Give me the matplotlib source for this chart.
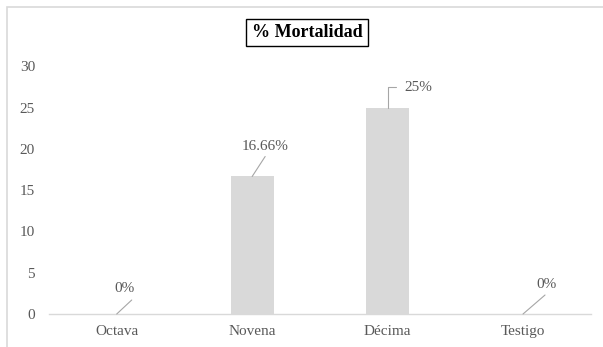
import matplotlib
matplotlib.use("Agg")
import matplotlib.pyplot as plt
import matplotlib.patches as patches

# Data
categories = ["Octava", "Novena", "Décima", "Testigo"]
mortality = [0, 16.66, 25, 0]
value_labels = ["0%", "16.66%", "25%", "0%"]
y_ticks = [0, 5, 10, 15, 20, 25, 30]

# label / leader line offsets in pixels from the bar top
text_offsets = [(7.5, 25), (13, 30), (31, 20), (23, 29)]
line_offsets = [(15, 14), (13, 20), (8.5, 21), (22, 19)]
elbow = [False, False, True, False]

W, H, DPI = 603, 347, 100
GREY_TEXT = "#595959"
LIGHT = "#D9D9D9"
LEADER = "#A6A6A6"

plt.rcParams["font.family"] = ["Liberation Serif", "DejaVu Serif"]

fig = plt.figure(figsize=(W / DPI, H / DPI), dpi=DPI)
fig.patch.set_facecolor("white")

# chart area border (cut off on the right and bottom in the reference)
fig.patches.append(patches.Rectangle((7 / W, -0.1), 1.2, (H - 7) / H + 0.1,
                                     transform=fig.transFigure, fill=False,
                                     edgecolor=LIGHT, linewidth=1.2))

left, right = 49 / W, 590.75 / W
bottom, top = (H - 314) / H, (H - 66.4) / H
ax = fig.add_axes([left, bottom, right - left, top - bottom])

x = range(len(categories))
ax.bar(x, mortality, width=0.317, color=LIGHT, zorder=2)

ax.set_xlim(-0.5, len(categories) - 0.5)
ax.set_ylim(0, 30)
ax.set_yticks(y_ticks)
ax.set_xticks(list(x))
ax.set_xticklabels(categories)
ax.tick_params(axis="both", length=0, labelsize=11, colors=GREY_TEXT)
ax.tick_params(axis="y", pad=10)
ax.tick_params(axis="x", pad=8)
for side in ["top", "right", "left"]:
    ax.spines[side].set_visible(False)
ax.spines["bottom"].set_color(LIGHT)
ax.spines["bottom"].set_linewidth(1.0)

for i, (v, lab) in enumerate(zip(mortality, value_labels)):
    tx, ty = text_offsets[i]
    lx, ly = line_offsets[i]
    ax.annotate(lab, xy=(i, v), xytext=(tx, ty), textcoords="offset pixels",
                ha="center", va="center", fontsize=11, color=GREY_TEXT)
    style = "angle,angleA=0,angleB=90,rad=0" if elbow[i] else "arc3"
    ax.annotate("", xy=(i, v), xytext=(lx, ly), textcoords="offset pixels",
                arrowprops=dict(arrowstyle="-", color=LEADER, lw=0.8,
                                shrinkA=0, shrinkB=0, connectionstyle=style))

fig.text(307 / W, 1 - 32.5 / H, "% Mortalidad", ha="center", va="center",
         fontsize=13, fontweight="bold", color="black",
         bbox=dict(boxstyle="square,pad=0.3", facecolor="white",
                   edgecolor="black", linewidth=1.0))

fig.savefig("out.png", dpi=DPI)
